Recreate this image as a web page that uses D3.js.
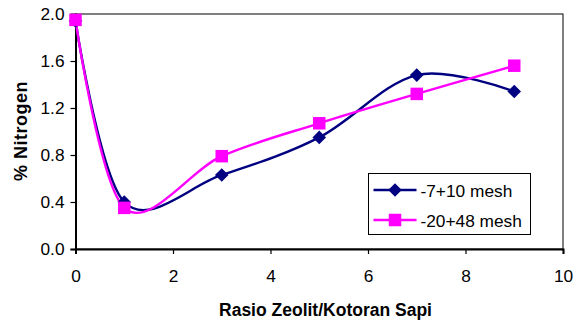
<!DOCTYPE html>
<html>
<head>
<meta charset="utf-8">
<script src="https://cdn.jsdelivr.net/npm/d3@7"></script>
<style>
  body { margin: 0; background: #fff; }
  svg { display: block; font-family: "Liberation Sans", Arial, sans-serif; }
</style>
</head>
<body>
<svg id="chart" width="583" height="325"></svg>
<script>
// Nitrogen content vs. zeolite / cow-manure ratio, two zeolite particle sizes
const ratios = [0, 1, 3, 5, 7, 9];
const mesh7_10 = [1.94, 0.40, 0.63, 0.95, 1.48, 1.34];
const mesh20_48 = [1.95, 0.35, 0.79, 1.07, 1.32, 1.56];
const seriesNames = ["-7+10 mesh", "-20+48 mesh"];
const xTicks = [0, 2, 4, 6, 8, 10];
const yTicks = [0.0, 0.4, 0.8, 1.2, 1.6, 2.0];

const svg = d3.select("#chart");
const m = { left: 75.5, right: 20, top: 14, bottom: 76 };
const W = 583, H = 325;
const FS = 17.3;

const x = d3.scaleLinear().domain([0, 10]).range([m.left, W - m.right]);
const y = d3.scaleLinear().domain([0, 2]).range([H - m.bottom, m.top]);

// plot frame
svg.append("rect")
  .attr("x", x(0)).attr("y", y(2))
  .attr("width", x(10) - x(0)).attr("height", y(0) - y(2))
  .attr("fill", "none").attr("stroke", "#000").attr("stroke-width", 1);

const xAxis = svg.append("g")
  .attr("transform", `translate(0,${y(0)})`)
  .call(d3.axisBottom(x).tickValues(xTicks).tickFormat(d3.format("d")).tickSizeOuter(0).tickSize(5).tickPadding(16));
const yAxis = svg.append("g")
  .attr("transform", `translate(${x(0)},0)`)
  .call(d3.axisLeft(y).tickValues(yTicks).tickFormat(d3.format(".1f")).tickSizeOuter(0).tickSize(5).tickPadding(6));

[xAxis, yAxis].forEach(g => {
  g.select(".domain").attr("stroke", "#000").attr("stroke-width", 2);
  g.selectAll(".tick line").attr("stroke", "#000").attr("stroke-width", 1.2);
  g.selectAll(".tick text").attr("fill", "#000").attr("font-size", FS)
    .attr("font-family", "'Liberation Sans', Arial, sans-serif");
});

// axis titles
svg.append("text")
  .attr("x", 325.5).attr("y", 316)
  .attr("text-anchor", "middle").attr("font-weight", "bold").attr("font-size", 17.5)
  .text("Rasio Zeolit/Kotoran Sapi");
svg.append("text")
  .attr("transform", `translate(27,131) rotate(-90)`)
  .attr("text-anchor", "middle").attr("font-weight", "bold").attr("font-size", 18)
  .attr("letter-spacing", 0.5)
  .text("% Nitrogen");

// rotated-square marker
const diamond = {
  draw(ctx, size) {
    const r = Math.sqrt(size / 2);
    ctx.moveTo(0, -r); ctx.lineTo(r, 0); ctx.lineTo(0, r); ctx.lineTo(-r, 0); ctx.closePath();
  }
};

const series = [
  { name: seriesNames[0], values: mesh7_10, color: "#000080", shape: diamond, size: 92 },
  { name: seriesNames[1], values: mesh20_48, color: "#FF00FF", shape: d3.symbolSquare, size: 156 }
];

const line = d3.line()
  .x((d, i) => x(ratios[i]))
  .y(d => y(d))
  .curve(d3.curveCatmullRom.alpha(0));

series.forEach(s => {
  svg.append("path")
    .attr("d", line(s.values))
    .attr("fill", "none").attr("stroke", s.color).attr("stroke-width", 2.4);
});
series.forEach(s => {
  svg.selectAll(null).data(s.values).enter().append("path")
    .attr("d", d3.symbol().type(s.shape).size(s.size))
    .attr("transform", (d, i) => `translate(${x(ratios[i])},${y(d)})`)
    .attr("fill", s.color);
});

// legend
const lg = svg.append("g").attr("transform", "translate(368.5,173.5)");
lg.append("rect").attr("width", 162).attr("height", 61)
  .attr("fill", "#fff").attr("stroke", "#000").attr("stroke-width", 1);
series.forEach((s, i) => {
  const cy = 16.5 + i * 30;
  lg.append("line").attr("x1", 5).attr("x2", 48).attr("y1", cy).attr("y2", cy)
    .attr("stroke", s.color).attr("stroke-width", 2.4);
  lg.append("path").attr("d", d3.symbol().type(s.shape).size(s.size))
    .attr("transform", `translate(26.5,${cy})`).attr("fill", s.color);
  lg.append("text").attr("x", 52).attr("y", cy + 6.5)
    .attr("font-size", FS).text(s.name);
});
</script>
</body>
</html>
